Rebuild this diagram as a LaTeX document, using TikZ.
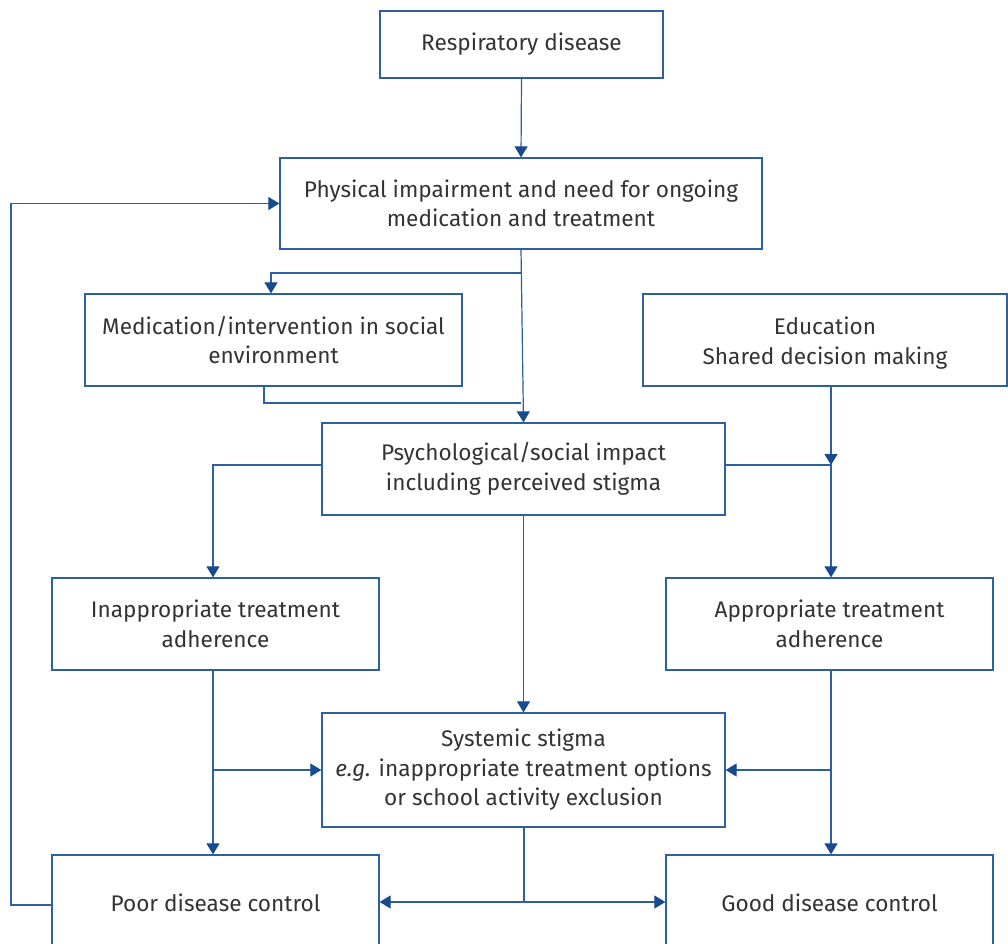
\documentclass[tikz,border=0pt]{standalone}
\usepackage{fontspec}
\setmainfont{Fira Sans}
\usetikzlibrary{arrows.meta,calc}
\definecolor{bl}{HTML}{2D60A3}
\definecolor{ah}{HTML}{174B8F}
\definecolor{tx}{HTML}{333333}
\begin{document}
\begin{tikzpicture}[x=1pt,y=-1pt,
 box/.style={draw=bl,line width=1.3pt,text=tx,align=center,inner sep=0pt,font=\fontsize{22.6}{29.5}\selectfont},
 conn/.style={draw=bl,line width=1.2pt},
 arr/.style={conn,-{Triangle[length=11pt,width=13pt,color=ah]}}]
\useasboundingbox (0,0) rectangle (1008,943);
\node[box,minimum width=283pt,minimum height=67pt] (resp) at (521.5,44.5) {Respiratory disease};
\node[box,minimum width=482pt,minimum height=91pt] (phys) at (521,203.5) {Physical impairment and need for ongoing\\medication and treatment};
\node[box,minimum width=377pt,minimum height=92pt] (med) at (273.5,340) {Medication/intervention in social\\environment};
\node[box,minimum width=364pt,minimum height=92pt] (edu) at (825,340) {};
\node[text=tx,align=center,font=\fontsize{22.6}{29.5}\selectfont] (edut) at (825,343) {Education\\Shared decision making};
\node[box,minimum width=403pt,minimum height=92pt] (psych) at (523.5,469) {Psychological/social impact\\including perceived stigma};
\node[box,minimum width=327pt,minimum height=92pt] (inapp) at (215.5,624) {Inappropriate treatment\\adherence};
\node[box,minimum width=327pt,minimum height=92pt] (app) at (829.5,624) {Appropriate treatment\\adherence};
\node[box,minimum width=403pt,minimum height=114pt] (sys) at (523.5,770) {Systemic stigma\\\textit{e.g.} inappropriate treatment options\\or school activity exclusion};
\node[box,minimum width=327pt,minimum height=96pt] (poor) at (215.5,903) {Poor disease control};
\node[box,minimum width=327pt,minimum height=96pt] (good) at (829.5,903) {Good disease control};
% coordinates
\coordinate (j1) at (521,273);
\coordinate (j2) at (521,403);
\coordinate (jr) at (831,465);
\coordinate (jl) at (213,465);
\coordinate (jb) at (524,902);
\coordinate (jf) at (11,905);
% connectors
\draw[arr] (resp.south) -- (phys.north);
\draw[arr] (phys.south) -- (psych.north);
\draw[arr] (j1) -| ([xshift=-2.5pt]med.north);
\draw[conn] ([xshift=-9.5pt]med.south) |- (j2);
\draw[arr] (edu.south -| jr) -- (jr);
\draw[arr] (psych.east |- jr) -- (jr) -- (app.north -| jr);
\draw[arr] (psych.west |- jl) -- (jl) -- (inapp.north -| jl);
\draw[arr] (psych.south) -- (sys.north);
\draw[arr] (inapp.south -| jl) -- (poor.north -| jl);
\draw[arr] (sys.west -| jl) -- (sys.west);
\draw[arr] (app.south -| jr) -- (good.north -| jr);
\draw[arr] (sys.east -| jr) -- (sys.east);
\draw[conn] (sys.south -| jb) -- (jb);
\draw[arr] (jb) -- (poor.east |- jb);
\draw[arr] (jb) -- (good.west |- jb);
\draw[arr] (poor.west |- jf) -- (jf) |- (phys.west);
\end{tikzpicture}
\end{document}
